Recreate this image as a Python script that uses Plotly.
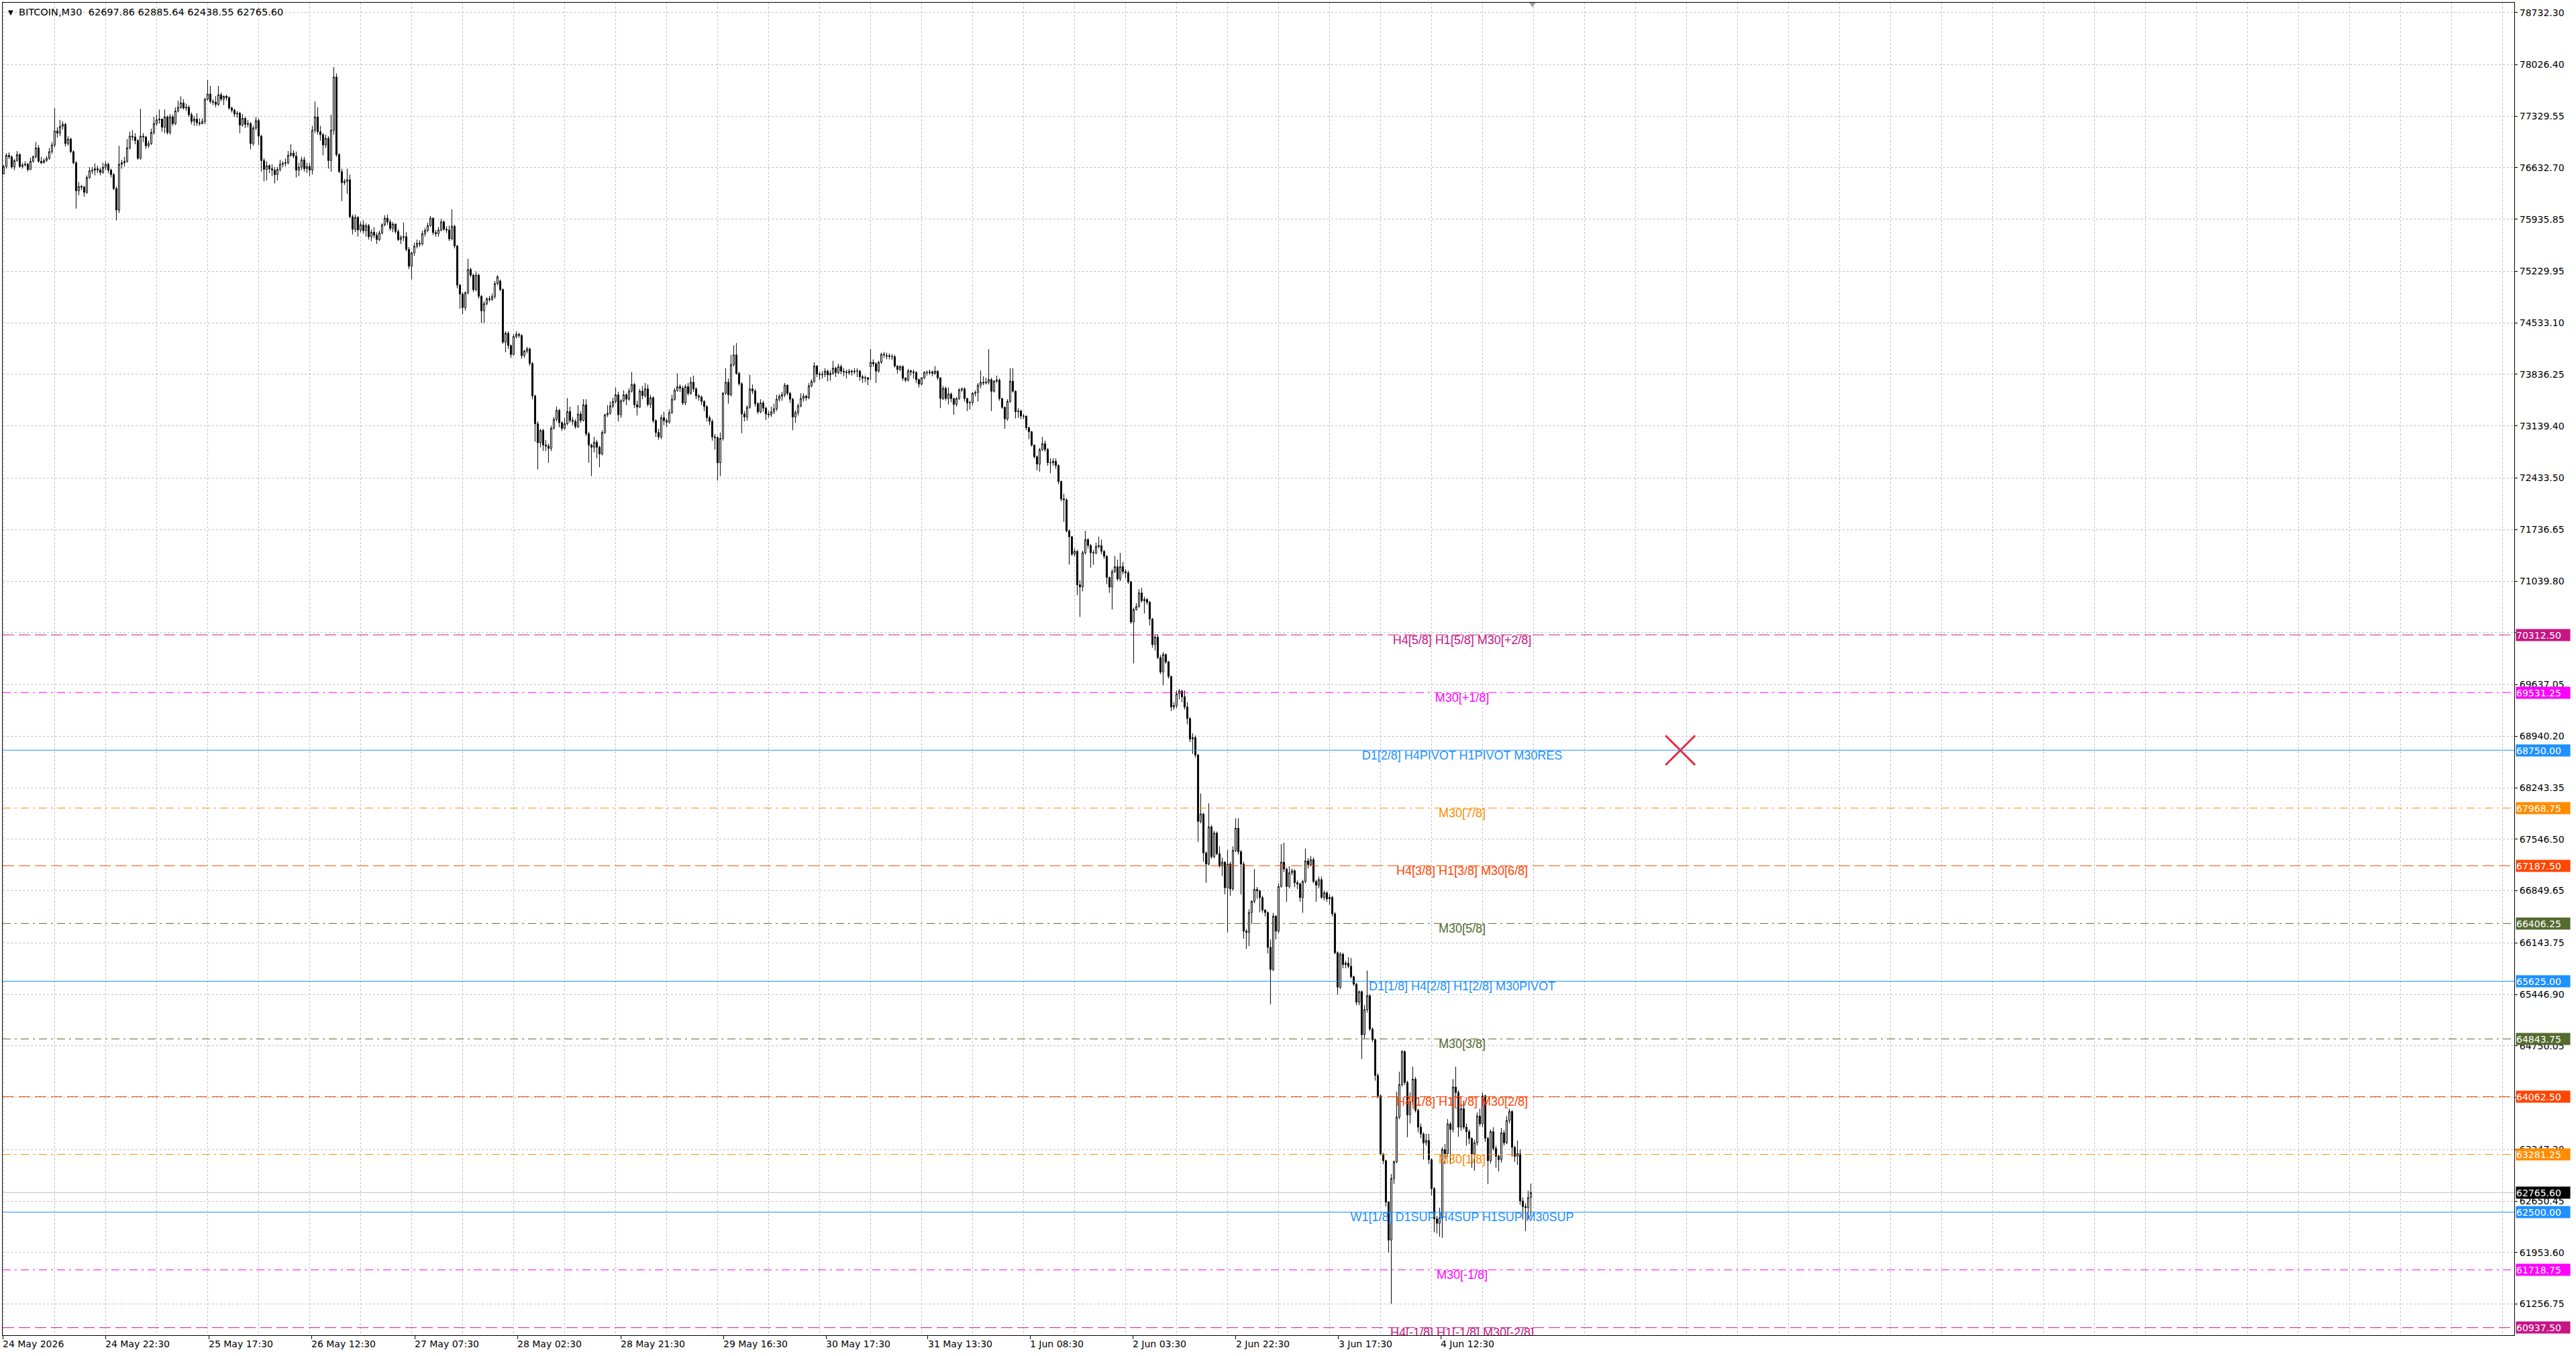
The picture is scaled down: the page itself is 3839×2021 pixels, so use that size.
import plotly.graph_objects as go

# ---------------- OHLC data (BITCOIN, M30) ----------------
opens = [
76550,76650,76800,76780,76645,76730,76810,76650,76670,76680,
76610,76720,76780,76900,76720,76700,76730,76760,76850,76940,
77130,77100,77190,77220,76960,77020,76850,76700,76320,76380,
76370,76300,76500,76590,76600,76620,76600,76570,76640,76680,
76600,76540,76350,76060,76680,76700,76720,76900,77060,77050,
77000,76760,77060,77050,76930,76960,77110,77230,77280,77290,
77180,77320,77110,77320,77230,77400,77450,77510,77440,77450,
77350,77260,77290,77240,77230,77260,77560,77630,77530,77520,
77490,77620,77560,77600,77580,77440,77410,77360,77370,77210,
77300,77220,77230,76960,77170,77270,77060,76730,76610,76660,
76620,76600,76540,76610,76680,76690,76700,76800,76830,76790,
76600,76640,76740,76620,76650,76600,77140,77320,77120,77080,
76940,77030,76730,77140,77860,76810,76580,76430,76450,76470,
75970,75800,75960,75790,75860,75780,75850,75700,75760,75720,
75660,75750,75860,75950,75900,75810,75870,75770,75660,75690,
75700,75528,75300,75480,75570,75610,75600,75740,75785,75850,
75950,75755,75740,75790,75900,75800,75790,75670,75840,75573,
75044,74923,74740,74940,75255,75180,74983,75180,74893,74696,
74792,74860,74850,74890,75065,75100,74985,74272,74393,74227,
74106,74348,74378,74363,74091,74150,74180,73985,73546,73168,
72910,73077,72880,72866,72835,73107,73228,73349,73183,73107,
73168,73334,73213,73200,73130,73300,73213,73425,73032,72880,
72850,72920,72850,72760,73050,73290,73310,73410,73470,73560,
73290,73480,73560,73500,73610,73700,73425,73395,73610,73550,
73640,73430,73520,73210,73050,72990,73250,73210,73190,73320,
73500,73620,73670,73650,73450,73670,73580,73730,73640,73545,
73530,73470,73400,73250,73200,72990,72980,72640,72970,73580,
73730,73560,73970,74100,73850,73710,73300,73260,73390,73640,
73610,73440,73330,73450,73380,73300,73290,73330,73370,73500,
73540,73560,73690,73580,73500,73260,73320,73410,73510,73540,
73520,73680,73740,73950,73840,73830,73835,73880,73830,73850,
73920,73860,73940,73880,73870,73860,73880,
73870,73880,73880,73804,73785,73790,73940,74000,73980,73880,
74000,74108,74080,74090,74080,74075,73950,73903,73942,73785,
73758,73883,73870,73860,73765,73706,73790,73864,73860,73870,
73850,73880,73790,73510,73647,73510,73570,73509,73430,73509,
73627,73640,73509,73450,73455,73580,73590,73690,73730,73720,
73730,73765,73608,73745,73760,73509,73391,73234,73470,73745,
73608,73332,73340,73273,73270,73115,73060,72879,72722,72623,
72820,72899,72820,72643,72640,72660,72604,72387,72151,72139,
71718,71639,71403,71442,70989,70960,71423,71600,71521,71423,
71420,71509,71520,71442,71375,71088,70958,71167,71234,71068,
71234,71167,71150,71029,70486,70655,70694,70879,70773,70790,
70753,70525,70182,70281,70005,69808,70045,69946,69749,69336,
69356,69513,69552,69474,69336,69178,68903,68922,
68687,67787,67888,67361,67210,67713,67310,67629,67351,67183,
67236,66890,67210,66874,67394,67696,67377,67210,66303,66286,
66554,66706,66867,66847,66756,66588,66554,66084,65782,66504,
66303,66907,67236,67142,66907,67092,67119,66958,66941,66756,
66974,67253,67203,67270,66974,66924,
67000,66760,66821,66740,66760,66537,66011,65545,65990,65849,
65869,65828,65686,65585,65342,65484,64900,65241,65430,64977,64835,
64349,64073,63287,63196,62636,62122,62954,63181,63786,64225,
64673,64255,63816,64000,64300,63877,63650,63559,63438,63470,
63211,62818,62409,62349,62424,63347,63290,63695,63620,64194,
64119,63650,63900,63650,63590,63498,63287,63440,63801,63695,
64073,63498,63196,63590,63362,63256,63211,63574,63438,63741,
63862,63377,63256,63290,62651,62576,62560,62697.86,
]

highs = [
76670,76830,76840,76800,76750,76860,76830,76700,76720,76700,
76770,76800,76980,76940,76780,76760,76790,76900,76980,77440,
77180,77280,77260,77240,77060,77040,76870,76720,76440,76400,
76390,76530,76640,76640,76690,76660,76630,76700,76720,76700,
76620,76560,76380,76930,76740,76780,77020,77120,77140,77100,
77020,77430,77100,77060,77000,77160,77320,77350,77420,77300,
77420,77340,77360,77350,77450,77540,77600,77560,77500,77480,
77380,77330,77370,77300,77300,77580,77820,77740,77560,77600,
77740,77650,77610,77620,77600,77460,77430,77400,77390,77360,
77320,77280,77250,77200,77320,77300,77080,76760,76720,76680,
76680,76640,76640,76740,76720,76760,76860,76950,76870,76850,
76700,76780,76780,76700,76700,77200,77530,77450,77200,77100,
77080,77060,77350,77995,77910,76830,76620,76480,76620,76540,
76000,76000,75980,75900,75920,75880,75870,75800,75830,75760,
75780,75880,75990,76000,75930,75900,75880,75800,75720,75890,
75760,75560,75500,75620,75660,75650,75780,75820,75890,75980,
75960,75790,75830,75940,75920,75840,75850,76070,75860,75590,
75060,74950,74960,75400,75280,75200,75230,75200,74910,74830,
74880,74900,74930,75100,75180,75120,75000,74420,74420,74240,
74380,74420,74400,74380,74170,74210,74200,74000,73560,73200,
73100,73100,72950,72900,73140,73260,73400,73370,73200,73250,
73516,73400,73260,73230,73420,73340,73500,73500,73060,72900,
72990,72950,72870,73080,73300,73420,73470,73520,73660,73600,
73500,73620,73580,73650,73870,73720,73480,73640,73680,73720,
73700,73560,73540,73230,73100,73290,73330,73240,73360,73560,
73650,73850,73700,73680,73700,73720,73800,73820,73660,73570,
73550,73490,73420,73280,73230,73030,73000,73050,73600,73920,
73780,74100,74230,74260,73870,73730,73340,73420,73830,73700,
73640,73460,73500,73480,73400,73340,73400,73440,73560,73570,
73600,73720,73700,73600,73520,73350,73440,73580,73580,73560,
73720,73770,74000,73960,73870,73880,73920,73900,73890,74020,
73940,73980,73970,73920,73900,73910,73900,
73920,73920,73900,73830,73820,73800,74180,74040,74000,74020,
74130,74140,74130,74120,74110,74100,73960,73960,73960,73800,
73910,73900,73900,73880,73780,73800,73880,73890,73900,73890,
73950,73890,73800,73680,73670,73660,73590,73520,73530,73650,
73660,73660,73520,73480,73600,73620,73720,73890,73810,73790,
74178,73790,73760,73820,73780,73520,73400,73500,73920,73920,
73620,73380,73360,73300,73280,73130,73070,72890,72740,72840,
72990,72940,72840,72700,72700,72700,72620,72400,72220,72160,
71740,71650,71480,71460,71050,71450,71720,71620,71540,71460,
71560,71640,71600,71460,71390,71100,71200,71380,71330,71420,
71300,71200,71180,71040,70680,70740,70930,70950,70830,70810,
70770,70540,70310,70320,70040,70080,70060,69960,69760,69400,
69560,69580,69570,69560,69400,69200,68980,68950,
68700,68167,67900,67380,68032,67740,67660,67650,67450,67300,
67250,67400,67240,67450,67830,67830,67400,67243,66330,66600,
66720,67142,66900,66860,66780,66600,66570,66190,66550,66520,
66950,67480,67500,67160,67180,67150,67140,66990,66960,67000,
67420,67290,67320,67300,67000,67040,
67040,66850,66840,66800,66780,66560,66030,66020,66010,65900,
65950,65940,65700,65600,65500,65500,65300,65770,65450,65000,64850,
64380,64090,63300,63210,62650,63014,63200,64130,64400,64693,
64690,64280,64120,64470,64330,63900,63700,63580,63560,63560,
63230,62840,62450,62560,63380,63420,63760,63720,64300,64470,
64150,64000,64010,63700,63620,63510,63480,63850,63900,64120,
64090,63520,63620,63650,63400,63280,63640,63610,63800,63900,
63880,63400,63470,63350,62700,62620,62790,62885.64,
]

lows = [
76540,76620,76750,76620,76600,76710,76630,76620,76650,76580,
76600,76700,76760,76700,76680,76690,76710,76740,76820,76910,
77040,77060,77150,76920,76930,76830,76680,76080,76260,76330,
76240,76280,76480,76550,76530,76560,76530,76550,76600,76560,
76500,76330,75920,76020,76620,76650,76700,76880,77000,76950,
76740,76740,76980,76890,76900,76940,77080,77200,77230,77120,
77100,77080,77080,77200,77210,77380,77430,77420,77400,77320,
77220,77200,77200,77200,77220,77220,77540,77500,77480,77450,
77470,77530,77480,77540,77420,77380,77320,77310,77100,77190,
77170,77180,76880,76930,77140,76940,76580,76450,76460,76560,
76520,76420,76460,76580,76640,76650,76680,76780,76760,76500,
76520,76600,76580,76560,76520,76540,77100,77080,77000,76800,
76900,76620,76580,77080,76780,76560,76180,76400,76280,75950,
75730,75760,75700,75760,75740,75700,75660,75640,75680,75600,
75640,75730,75840,75860,75780,75760,75740,75640,75600,75640,
75500,75260,75120,75440,75540,75560,75580,75700,75760,75830,
75720,75700,75700,75770,75780,75750,75640,75650,75540,75000,
74726,74650,74700,74920,75150,74950,74960,74860,74530,74530,
74770,74820,74830,74860,75040,74960,74250,74136,74180,74060,
74090,74320,74330,74050,74060,74120,73950,73500,72925,72550,
72850,72800,72800,72640,72800,73090,73200,73120,73070,73090,
73150,73180,73150,73100,73110,73180,73200,73000,72640,72460,
72780,72700,72580,72740,73030,73260,73290,73380,73440,73200,
73250,73460,73420,73480,73590,73380,73280,73380,73500,73520,
73400,73380,73180,72990,72950,72960,73150,73120,73170,73300,
73480,73600,73600,73420,73420,73550,73560,73600,73500,73480,
73420,73340,73200,73150,72940,72820,72400,72460,72940,73560,
73440,73540,73940,73830,73680,73040,73200,73210,73370,73570,
73400,73300,73310,73330,73220,73250,73260,73300,73340,73470,
73480,73530,73550,73450,73080,73180,73280,73390,73470,73480,
73500,73660,73720,73800,73760,73780,73800,73740,73750,73830,
73800,73840,73840,73810,73780,73830,73820,
73840,73800,73750,73720,73730,73690,73760,73940,73720,73860,
73980,74060,74040,74040,74030,73930,73850,73880,73750,73730,
73740,73820,73780,73720,73660,73690,73770,73820,73830,73810,
73830,73760,73380,73490,73480,73430,73460,73290,73400,73490,
73600,73470,73340,73360,73420,73540,73470,73650,73690,73700,
73700,73340,73590,73720,73480,73370,73100,73210,73450,73590,
73240,73250,73230,73230,73080,72960,72860,72700,72540,72520,
72800,72790,72600,72500,72600,72560,72350,72120,71840,71700,
71265,71380,71370,70850,70554,70900,71400,71480,71220,71260,
71400,71480,71400,71340,71000,70880,70655,71150,71040,71040,
71130,71080,71000,70460,69926,70640,70680,70750,70600,70720,
70440,70140,70100,69980,69780,69630,69920,69720,69280,69300,
69320,69440,69400,69300,69100,68860,68700,68650,
67510,67760,67243,66958,67190,67280,67290,67330,67160,67050,
66800,66286,66780,66850,67370,67340,66800,66200,66061,66100,
66400,66680,66740,66560,66550,66500,66000,65312,65760,66190,
66280,66890,67100,66700,66880,67060,66900,66870,66700,66550,
66950,67150,67180,66950,66700,66880,
66740,66720,66700,66660,66500,65990,65443,65520,65800,65800,
65800,65660,65560,65300,65300,64572,64850,65200,64950,64800,64280,
64040,63270,63150,62576,61955,61259,62880,63160,63760,64200,
64220,63514,63700,63950,63850,63580,63500,63211,63400,63150,
62727,62228,62212,62167,62152,63150,63250,63150,63580,64050,
63520,63600,63620,63400,63420,63100,63060,63400,63660,63650,
63450,62880,63160,63330,63100,63050,63170,63400,63420,63700,
63250,63180,63140,62600,62400,62243,62400,62438.55,
]

closes = [
76650,76800,76780,76645,76730,76810,76650,76670,76680,76610,
76720,76780,76900,76720,76700,76730,76760,76850,76940,77130,
77100,77190,77220,76960,77020,76850,76700,76320,76380,76370,
76300,76500,76590,76600,76620,76600,76570,76640,76680,76600,
76540,76350,76060,76680,76700,76720,76900,77060,77050,77000,
76760,77060,77050,76930,76960,77110,77230,77280,77290,77180,
77320,77110,77320,77230,77400,77450,77510,77440,77450,77350,
77260,77290,77240,77230,77260,77560,77630,77530,77520,77490,
77620,77560,77600,77580,77440,77410,77360,77370,77210,77300,
77220,77230,76960,77170,77270,77060,76730,76610,76660,76620,
76600,76540,76610,76680,76690,76700,76800,76830,76790,76600,
76640,76740,76620,76650,76600,77140,77320,77120,77080,76940,
77030,76730,77140,77860,76810,76580,76430,76450,76470,75970,
75800,75960,75790,75860,75780,75850,75700,75760,75720,75660,
75750,75860,75950,75900,75810,75870,75770,75660,75690,75700,
75528,75300,75480,75570,75610,75600,75740,75785,75850,75950,
75755,75740,75790,75900,75800,75790,75670,75840,75573,75044,
74923,74740,74940,75255,75180,74983,75180,74893,74696,74792,
74860,74850,74890,75065,75156,74985,74272,74393,74227,74106,
74348,74378,74363,74091,74150,74180,73985,73546,73168,72910,
73077,72880,72866,72835,73107,73228,73349,73183,73107,73168,
73334,73213,73200,73130,73300,73213,73425,73032,72880,72850,
72920,72850,72760,73050,73290,73310,73410,73470,73560,73290,
73480,73560,73500,73610,73700,73425,73395,73610,73550,73640,
73430,73520,73210,73050,72990,73250,73210,73190,73320,73500,
73620,73670,73650,73450,73670,73580,73730,73640,73545,73530,
73470,73400,73250,73200,72990,72980,72640,72970,73580,73730,
73560,73970,74100,73850,73710,73300,73260,73390,73640,73610,
73440,73330,73450,73380,73300,73290,73330,73370,73500,73540,
73560,73690,73580,73500,73260,73320,73410,73510,73540,73520,
73680,73740,73950,73840,73830,73835,73880,73830,73850,73920,
73860,73940,73880,73870,73860,73880,73870,
73880,73880,73804,73785,73790,73770,74000,73980,73880,74000,
74108,74100,74090,74080,74075,73950,73903,73942,73785,73758,
73883,73870,73860,73765,73706,73790,73864,73860,73870,73850,
73880,73790,73510,73647,73510,73570,73509,73430,73509,73627,
73640,73509,73450,73455,73580,73590,73690,73730,73720,73730,
73765,73608,73745,73760,73509,73391,73234,73470,73745,73608,
73332,73340,73273,73270,73115,73060,72879,72722,72623,72820,
72899,72820,72643,72640,72660,72604,72387,72151,72139,71718,
71639,71403,71442,70989,70960,71423,71600,71521,71423,71420,
71509,71520,71442,71375,71088,70958,71167,71234,71068,71234,
71167,71150,71029,70486,70655,70694,70879,70773,70790,70753,
70525,70182,70281,70005,69808,70045,69946,69749,69336,69356,
69513,69552,69474,69336,69178,68903,68922,68687,
67787,67888,67361,67210,67713,67310,67629,67351,67183,67236,
66890,67210,66874,67394,67696,67377,67210,66303,66286,66554,
66706,66867,66847,66756,66588,66554,66084,65782,66504,66303,
66907,67236,67142,66907,67092,67119,66958,66941,66756,66974,
67253,67203,67270,66974,66924,67000,
66760,66821,66740,66760,66537,66011,65545,65990,65849,65869,
65828,65686,65585,65342,65484,64900,65241,65430,64977,64835,64349,
64073,63287,63196,62636,62122,62954,63181,63786,64225,64673,
64255,63816,64000,64300,63877,63650,63559,63438,63470,63211,
62818,62409,62349,62424,63347,63290,63695,63620,64194,64119,
63650,63900,63650,63590,63498,63287,63440,63801,63695,64073,
63498,63196,63590,63362,63256,63211,63574,63438,63741,63862,
63377,63256,63290,62651,62576,62560,62697.86,62765.60,
]

# ---------------- axis labels ----------------
time_labels = ["24 May 2026", "24 May 22:30", "25 May 17:30", "26 May 12:30",
               "27 May 07:30", "28 May 02:30", "28 May 21:30", "29 May 16:30",
               "30 May 17:30", "31 May 13:30", "1 Jun 08:30", "2 Jun 03:30",
               "2 Jun 22:30", "3 Jun 17:30", "4 Jun 12:30"]
time_label_bars = [-0.33, 38.0, 76.4, 114.65, 153.15, 191.4, 229.9, 268.15,
                   306.5, 344.35, 382.4, 420.65, 459.05, 497.3, 535.5]

price_ticks = [78732.30, 78026.40, 77329.55, 76632.70, 75935.85, 75229.95,
               74533.10, 73836.25, 73139.40, 72433.50, 71736.65, 71039.80,
               70342.95, 69637.05, 68940.20, 68243.35, 67546.50, 66849.65,
               66143.75, 65446.90, 64750.05, 64053.20, 63347.30, 62650.45,
               61953.60, 61256.75]

# ---------------- Murrey-math style levels ----------------
level_prices = [70312.50, 69531.25, 68750.00, 67968.75, 67187.50, 66406.25,
                65625.00, 64843.75, 64062.50, 63281.25, 62500.00, 61718.75,
                60937.50]
level_names = ["H4[5/8] H1[5/8] M30[+2/8]", "M30[+1/8]",
               "D1[2/8] H4PIVOT H1PIVOT M30RES", "M30[7/8]",
               "H4[3/8] H1[3/8] M30[6/8]", "M30[5/8]",
               "D1[1/8] H4[2/8] H1[2/8] M30PIVOT", "M30[3/8]",
               "H4[1/8] H1[1/8] M30[2/8]", "M30[1/8]",
               "W1[1/8] D1SUP H4SUP H1SUP M30SUP", "M30[-1/8]",
               "H4[-1/8] H1[-1/8] M30[-2/8]"]
VIOLET, MAGENTA, BLUE = "#C71585", "#FF00FF", "#1E90FF"
ORANGE, ORED, OLIVE = "#FF8C00", "#FF4500", "#556B2F"
level_colors = [VIOLET, MAGENTA, BLUE, ORANGE, ORED, OLIVE, BLUE, OLIVE,
                ORED, ORANGE, BLUE, MAGENTA, VIOLET]
DASH = "17px,7px"
DASHDOT = "12px,6px,3px,6px"
level_dashes = [DASH, DASHDOT, "solid", DASHDOT, DASH, DASHDOT, "solid",
                DASHDOT, DASH, DASHDOT, "solid", DASHDOT, DASH]
label_bar = 543.4

current_price = 62765.60
symbol_title = "BITCOIN,M30  62697.86 62885.64 62438.55 62765.60"
cross_bar, cross_price = 624.7, 68750.00

bars = list(range(len(closes)))
assert len(opens) == len(highs) == len(lows) == len(closes)

GRID = "#C0C0C0"
AXFONT = dict(family="DejaVu Sans", size=14, color="#000000")

fig = go.Figure()

fig.add_trace(go.Candlestick(
    x=bars, open=opens, high=highs, low=lows, close=closes,
    increasing=dict(line=dict(color="#000000", width=1), fillcolor="#FFFFFF"),
    decreasing=dict(line=dict(color="#000000", width=1), fillcolor="#000000"),
    whiskerwidth=0, showlegend=False, hoverinfo="skip"))

# level labels (clipped to plot area)
for p, name, col in zip(level_prices, level_names, level_colors):
    fig.add_trace(go.Scatter(
        x=[label_bar], y=[p], mode="text", text=[name],
        textposition="bottom center",
        textfont=dict(family="Liberation Sans", size=18, color=col),
        showlegend=False, hoverinfo="skip", cliponaxis=True))

# red cross object
fig.add_trace(go.Scatter(
    x=[cross_bar], y=[cross_price], mode="markers",
    marker=dict(symbol="x-thin", size=44, line=dict(color="#E8283C", width=3)),
    showlegend=False, hoverinfo="skip"))

shapes = []
shapes.append(dict(type="line", xref="paper", x0=0, x1=1, yref="y",
                   y0=current_price, y1=current_price, layer="between",
                   line=dict(color="#C0C0C0", width=1)))
for p, col, d in zip(level_prices, level_colors, level_dashes):
    shapes.append(dict(type="line", xref="paper", x0=0, x1=1, yref="y",
                       y0=p, y1=p, layer="above",
                       line=dict(color=col, width=1, dash=d)))
# chart-shift marker at the top
shapes.append(dict(type="path", xref="x", yref="paper", layer="above",
                   path="M 568.4 1 L 570.8 1 L 569.6 0.9965 Z",
                   fillcolor="#A0A0A0", line=dict(width=0)))

annotations = []
annotations.append(dict(xref="paper", yref="paper", x=0, y=1, xanchor="left",
                        yanchor="top", xshift=6, yshift=-7, showarrow=False,
                        text="▼", font=dict(family="DejaVu Sans", size=10,
                                            color="#000000")))
annotations.append(dict(xref="paper", yref="paper", x=0, y=1, xanchor="left",
                        yanchor="top", xshift=22, yshift=-4, showarrow=False,
                        text=symbol_title,
                        font=dict(family="DejaVu Sans", size=14.5,
                                  color="#000000")))
for xb, lab in zip(time_label_bars, time_labels):
    annotations.append(dict(xref="x", yref="paper", x=xb, y=0, xanchor="left",
                            yanchor="top", xshift=-2, yshift=-3,
                            showarrow=False, text=lab, font=AXFONT))
box_prices = level_prices[:10] + [current_price] + level_prices[10:]
box_colors = level_colors[:10] + ["#000000"] + level_colors[10:]
for p, col in zip(box_prices, box_colors):
    annotations.append(dict(xref="paper", yref="y", x=1, y=p, xanchor="left",
                            yanchor="middle", xshift=2, showarrow=False,
                            text=f"{p:.2f}", bgcolor=col, borderpad=0,
                            width=80, height=17, align="left",
                            font=dict(family="DejaVu Sans", size=14,
                                      color="#FFFFFF")))

fig.update_layout(
    width=3839, height=2021,
    margin=dict(l=4, r=92, t=4, b=31),
    paper_bgcolor="#FFFFFF", plot_bgcolor="#FFFFFF",
    showlegend=False, hovermode=False,
    shapes=shapes, annotations=annotations,
    xaxis=dict(range=[-0.35, 935.4], rangeslider=dict(visible=False),
               tickmode="array", tickvals=list(range(0, 936, 19)),
               showticklabels=False, ticks="",
               showgrid=True, gridcolor=GRID, griddash="3px,3px", gridwidth=1,
               minor=dict(tickmode="array", tickvals=time_label_bars,
                          ticks="outside", ticklen=5, tickcolor="#000000",
                          showgrid=False),
               showline=True, linecolor="#000000", linewidth=1, mirror=True,
               zeroline=False),
    yaxis=dict(range=[60835, 78866], side="right",
               tickmode="array", tickvals=price_ticks,
               ticktext=[f"{v:.2f}" for v in price_ticks],
               tickfont=AXFONT, ticks="outside", ticklen=4,
               tickcolor="#000000",
               showgrid=True, gridcolor=GRID, griddash="3px,3px", gridwidth=1,
               showline=True, linecolor="#000000", linewidth=1, mirror=True,
               zeroline=False),
)

fig.write_html("out.html",
               config={"displayModeBar": False, "staticPlot": True},
               post_script="document.body.style.margin='0px';"
                           "document.body.style.overflow='hidden';")
